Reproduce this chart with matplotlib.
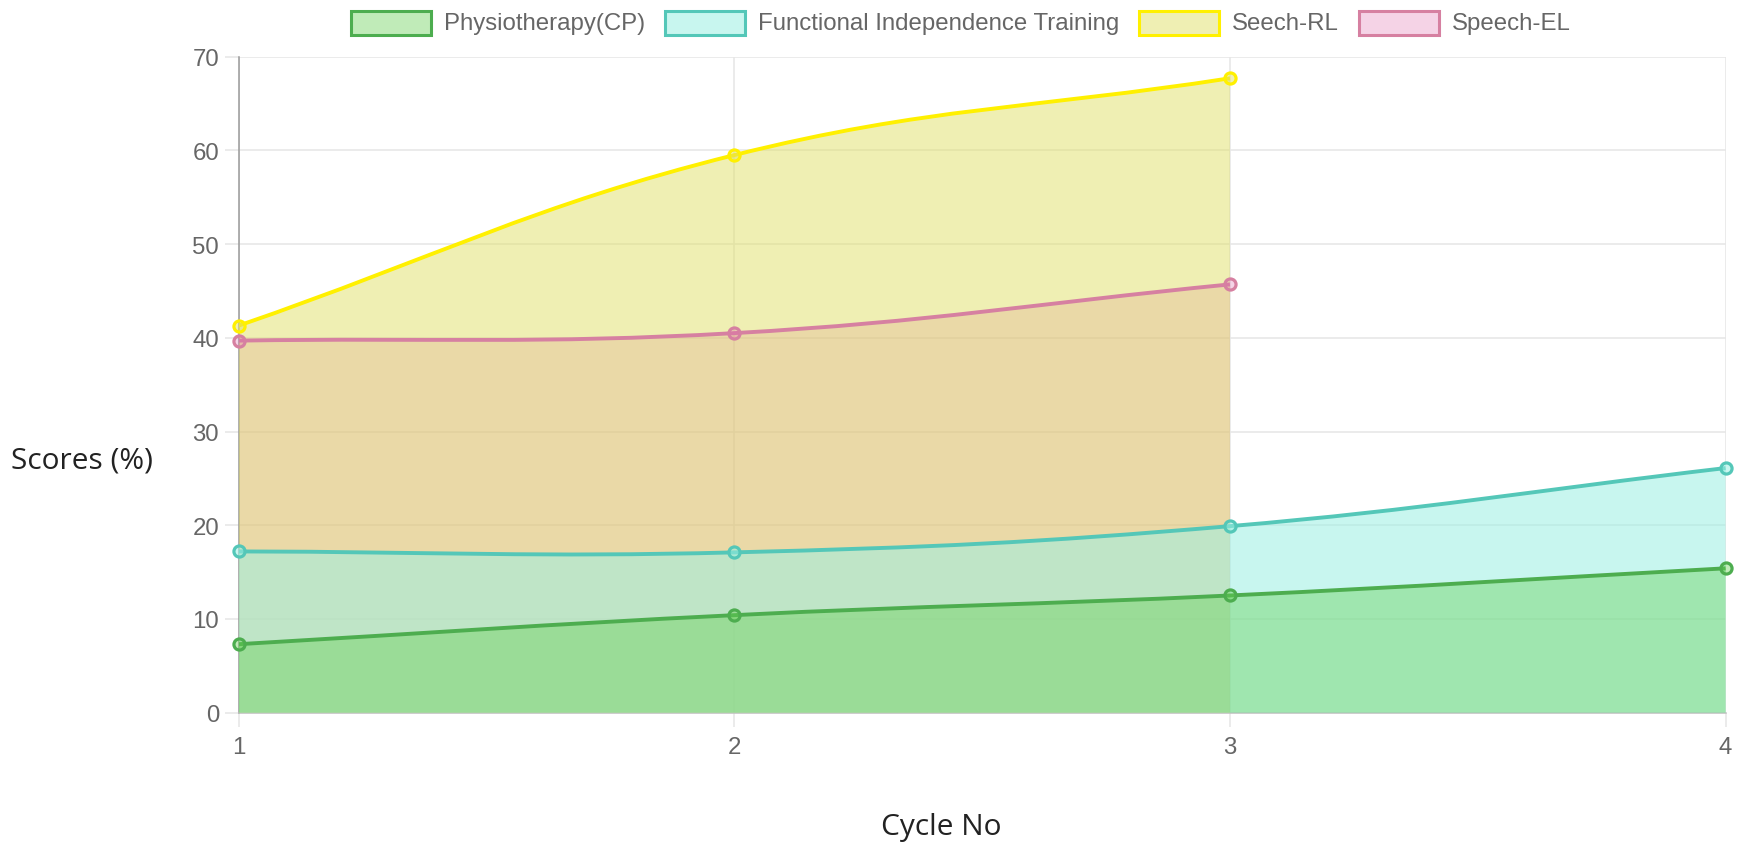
import matplotlib
matplotlib.use("Agg")
import matplotlib.pyplot as plt
from matplotlib.path import Path
from matplotlib.patches import PathPatch, Rectangle
import numpy as np

# data
cycles = [1, 2, 3, 4]
physio = [7.3, 10.4, 12.5, 15.4]
fit = [17.2, 17.1, 19.9, 26.1]
seech_rl = [41.3, 59.5, 67.7]
speech_el = [39.7, 40.5, 45.7]
names = ["Physiotherapy(CP)", "Functional Independence Training", "Seech-RL", "Speech-EL"]

# styles (line colour, fill colour with alpha)
line_cols = [(0.30, 0.68, 0.31), (0.33, 0.78, 0.72), (1.0, 0.94, 0.0), (0.84, 0.50, 0.63)]
fill_cols = [(0.39, 0.81, 0.31, 0.40), (0.61, 0.94, 0.89, 0.55),
             (0.88, 0.88, 0.41, 0.50), (0.88, 0.44, 0.68, 0.30)]
series = [physio, fit, seech_rl, speech_el]

W, H = 1740, 854
fig = plt.figure(figsize=(W / 100, H / 100), dpi=100)
L, R, T, B = 238.6, 1725.6, 57.7, 713.6
ax = fig.add_axes([L / W, 1 - B / H, (R - L) / W, (B - T) / H])
ax.set_xlim(1, 4)
ax.set_ylim(0, 70)
ax.set_xticks(cycles)
ax.set_yticks(range(0, 71, 10))
grid_c = (0.9, 0.9, 0.9)
ax.grid(True, color=grid_c, lw=1.1, zorder=0)
ax.set_axisbelow(True)
for s in ["top", "right"]:
    ax.spines[s].set_visible(False)
ax.spines["left"].set_color((0.6, 0.6, 0.6))
ax.spines["bottom"].set_color((0.75, 0.75, 0.75))
ax.spines["left"].set_linewidth(1.1)
ax.spines["bottom"].set_linewidth(1.1)
ax.tick_params(axis="both", length=10, width=1.1, color=grid_c,
               labelcolor="#666666", labelsize=17.3)
ax.tick_params(axis="y", pad=4)
ax.tick_params(axis="x", pad=7)
for lab in ax.get_xticklabels() + ax.get_yticklabels():
    lab.set_fontfamily("Liberation Sans")


def bezier_path(xs, ys, t=0.4):
    # chart.js style spline (tension 0.4) computed in pixel space
    pts = ax.transData.transform(np.column_stack([xs, ys]))
    n = len(pts)
    cps = []
    for i in range(n):
        cur = pts[i]
        prev = pts[i - 1] if i > 0 else cur
        nxt = pts[i + 1] if i < n - 1 else cur
        d01 = np.hypot(*(cur - prev))
        d12 = np.hypot(*(nxt - cur))
        tot = d01 + d12
        s01 = d01 / tot if tot else 0
        s12 = d12 / tot if tot else 0
        cps.append((cur - t * s01 * (nxt - prev), cur + t * s12 * (nxt - prev)))
    verts = [pts[0]]
    codes = [Path.MOVETO]
    for i in range(n - 1):
        verts += [cps[i][1], cps[i + 1][0], pts[i + 1]]
        codes += [Path.CURVE4] * 3
    inv = ax.transData.inverted()
    return inv.transform(np.array(verts)), codes


# fills first (last dataset at the bottom), then lines and points on top
for k in [3, 2, 1, 0]:
    ys = series[k]
    xs = cycles[:len(ys)]
    verts, codes = bezier_path(xs, ys)
    fverts = list(verts) + [(xs[-1], 0), (xs[0], 0), verts[0]]
    fcodes = list(codes) + [Path.LINETO, Path.LINETO, Path.CLOSEPOLY]
    ax.add_patch(PathPatch(Path(fverts, fcodes), facecolor=fill_cols[k],
                           edgecolor="none", zorder=2 + (3 - k)))
    z = 10 + (3 - k) * 2
    ax.add_patch(PathPatch(Path(verts, codes), facecolor="none",
                           edgecolor=line_cols[k], lw=2.8, zorder=z))
    ax.plot(xs, ys, "o", ms=8, mew=2.3, mec=line_cols[k], mfc=fill_cols[k],
            zorder=z + 1, clip_on=False)

# legend, chart.js style
fig.canvas.draw()
rend = fig.canvas.get_renderer()
fs = 17.3
box_w, box_h, gap, pad = 80, 24, 13, 20
x = 351
yc = 24
for k, nm in enumerate(names):
    fig.patches.append(Rectangle((x / W, 1 - (yc + box_h / 2) / H), box_w / W, box_h / H,
                                 transform=fig.transFigure, facecolor=fill_cols[k],
                                 edgecolor=line_cols[k], lw=2.2))
    tx = fig.text((x + box_w + gap) / W, 1 - yc / H, nm, fontsize=fs,
                  family="Liberation Sans", color="#666666", va="center")
    x += box_w + gap + tx.get_window_extent(rend).width + pad

fig.text(11 / W, 1 - 461 / H, "Scores (%)", fontsize=21.5, family="Open Sans",
         color="#222222", va="center", ha="left")
fig.text(941 / W, 1 - 828 / H, "Cycle No", fontsize=21.5, family="Open Sans",
         color="#222222", va="center", ha="center")

fig.savefig("out.png", dpi=100)
